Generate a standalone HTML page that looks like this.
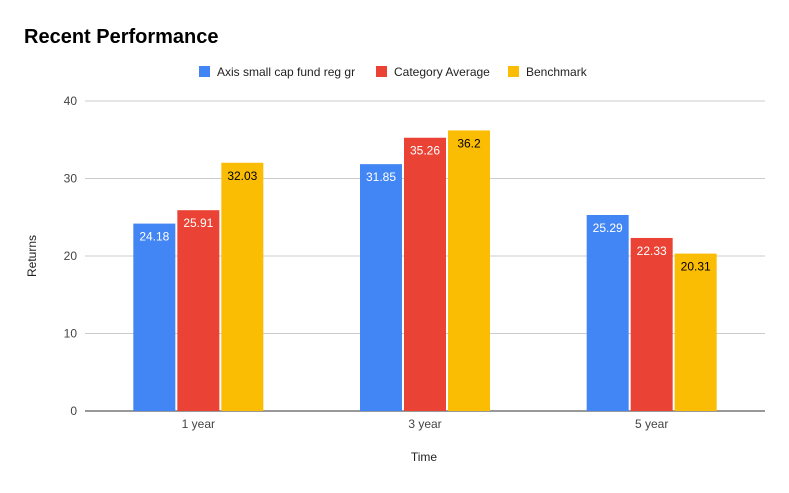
<!DOCTYPE html>
<html><head><meta charset="utf-8"><style>
body{margin:0;background:#fff;font-family:"Liberation Sans",Arial,sans-serif}
</style></head><body>
<svg id="chart" width="789" height="488" xmlns="http://www.w3.org/2000/svg">
<rect width="789" height="488" fill="#fff"/>
<text x="24" y="43" font-size="20" font-weight="bold" fill="#000">Recent Performance</text>
<g id="legend"></g>
<g id="grid"></g>
<g id="bars"></g>
<text transform="translate(36,256) rotate(-90)" text-anchor="middle" font-size="12" fill="#222">Returns</text>
<text x="424" y="461" text-anchor="middle" font-size="12" fill="#222">Time</text>
</svg>
<script>
const categories=["1 year","3 year","5 year"];
const seriesNames=["Axis small cap fund reg gr","Category Average","Benchmark"];
const fundValues=[24.18,31.85,25.29];
const categoryAvgValues=[25.91,35.26,22.33];
const benchmarkValues=[32.03,36.2,20.31];
const yTicks=[0,10,20,30,40];
const series=[fundValues,categoryAvgValues,benchmarkValues];
const colors=["#4285f4","#ea4335","#fbbc04"];
const labelColors=["#fff","#fff","#000"];
const NS="http://www.w3.org/2000/svg";
const plotLeft=85,plotRight=765,plotTop=101,plotBottom=411,yMax=40;
const yScale=v=>plotBottom-(v/yMax)*(plotBottom-plotTop);
const groupW=(plotRight-plotLeft)/categories.length;
const xc=i=>plotLeft+groupW*(i+0.5);
const barW=42,step=44;
function mk(tag,attrs,parent,text){const e=document.createElementNS(NS,tag);for(const k in attrs)e.setAttribute(k,attrs[k]);if(text!==undefined)e.textContent=text;parent.appendChild(e);return e;}
const grid=document.getElementById('grid');
yTicks.forEach(t=>{
 const l=mk('line',{x1:plotLeft,x2:plotRight,y1:yScale(t),y2:yScale(t),stroke:t===0?'#333':'#ccc','stroke-width':1},grid);
 
 
 const tx=mk('text',{x:77,y:yScale(t)+4,'text-anchor':'end','font-size':12,fill:'#444'},grid,String(t));
 
 
});
const bars=document.getElementById('bars');
categories.forEach((c,i)=>{
 series.forEach((s,j)=>{
  const x=xc(i)+(j-1)*step-barW/2;
  const r=mk('rect',{x:x,y:yScale(s[i]),width:barW,height:plotBottom-yScale(s[i]),fill:colors[j]},bars);
  
  
  const t=mk('text',{x:x+barW/2,y:yScale(s[i])+17,'text-anchor':'middle','font-size':12,fill:labelColors[j]},bars,String(s[i]));
  
  
 });
 const cl=mk('text',{x:xc(i),y:428,'text-anchor':'middle','font-size':12,fill:'#444'},bars,c);
 
 
});
const legend=document.getElementById('legend');
const lx=[199,376,508];
seriesNames.forEach((n,j)=>{
 const g=mk('g',{},legend);
 
 
 mk('rect',{x:lx[j],y:66,width:11,height:11,fill:colors[j]},g);
 mk('text',{x:lx[j]+18,y:76,'font-size':12,fill:'#222'},g,n);
});
</script>
</body></html>
